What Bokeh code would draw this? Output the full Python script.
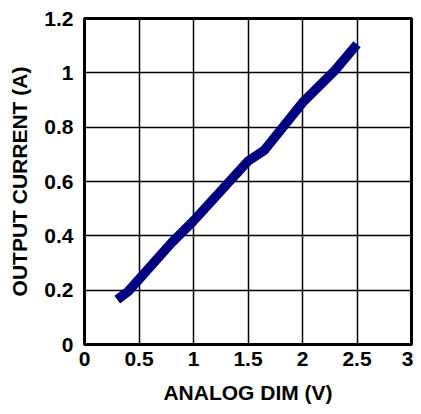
from bokeh.plotting import figure
from bokeh.models import FixedTicker, Range1d
from bokeh.embed import file_html
from bokeh.resources import INLINE

# Data
dim_v = [0.3, 0.4, 0.8, 1.0, 1.5, 1.65, 2.0, 2.3, 2.5]
current_a = [0.165, 0.195, 0.375, 0.455, 0.675, 0.715, 0.89, 1.01, 1.105]

x_ticks = [0, 0.5, 1, 1.5, 2, 2.5, 3]
x_tick_labels = ["0", "0.5", "1", "1.5", "2", "2.5", "3"]
y_ticks = [0, 0.2, 0.4, 0.6, 0.8, 1.0, 1.2]
y_tick_labels = ["0", "0.2", "0.4", "0.6", "0.8", "1", "1.2"]

FONT = "Liberation Sans"

p = figure(width=413, height=406, output_backend="svg", toolbar_location=None,
           x_range=Range1d(0, 3), y_range=Range1d(0, 1.2),
           min_border_left=84, min_border_top=18, min_border_right=2,
           min_border_bottom=60)

p.line(dim_v, current_a, line_color="#000080", line_width=9.5, line_cap="butt",
       line_join="round")

p.outline_line_color = "black"
p.outline_line_width = 3
p.background_fill_color = "white"
p.border_fill_color = "white"

for ax, ticks, labels in ((p.xaxis[0], x_ticks, x_tick_labels),
                          (p.yaxis[0], y_ticks, y_tick_labels)):
    ax.ticker = FixedTicker(ticks=ticks)
    ax.major_label_overrides = {t: l for t, l in zip(ticks, labels)}
    ax.major_tick_in = 0
    ax.major_tick_out = 0
    ax.minor_tick_line_color = None
    ax.axis_line_color = "black"
    ax.axis_line_width = 3
    ax.major_label_text_font = FONT
    ax.major_label_text_font_style = "bold"
    ax.major_label_text_font_size = "21px"
    ax.major_label_text_color = "black"
    ax.axis_label_text_font = FONT
    ax.axis_label_text_font_style = "bold"
    ax.axis_label_text_font_size = "21px"
    ax.axis_label_text_color = "black"

p.xaxis.axis_label = "ANALOG DIM (V)"
p.yaxis.axis_label = "OUTPUT CURRENT (A)"
p.xaxis.major_label_standoff = 7
p.yaxis.major_label_standoff = 11
p.xaxis.axis_label_standoff = 12
p.yaxis.axis_label_standoff = 10

p.xgrid.ticker = FixedTicker(ticks=x_ticks)
p.ygrid.ticker = FixedTicker(ticks=y_ticks)
for g in (p.xgrid[0], p.ygrid[0]):
    g.grid_line_color = "black"
    g.grid_line_width = 1.5
    g.grid_line_alpha = 1.0

open("out.html", "w").write(file_html(p, INLINE))
